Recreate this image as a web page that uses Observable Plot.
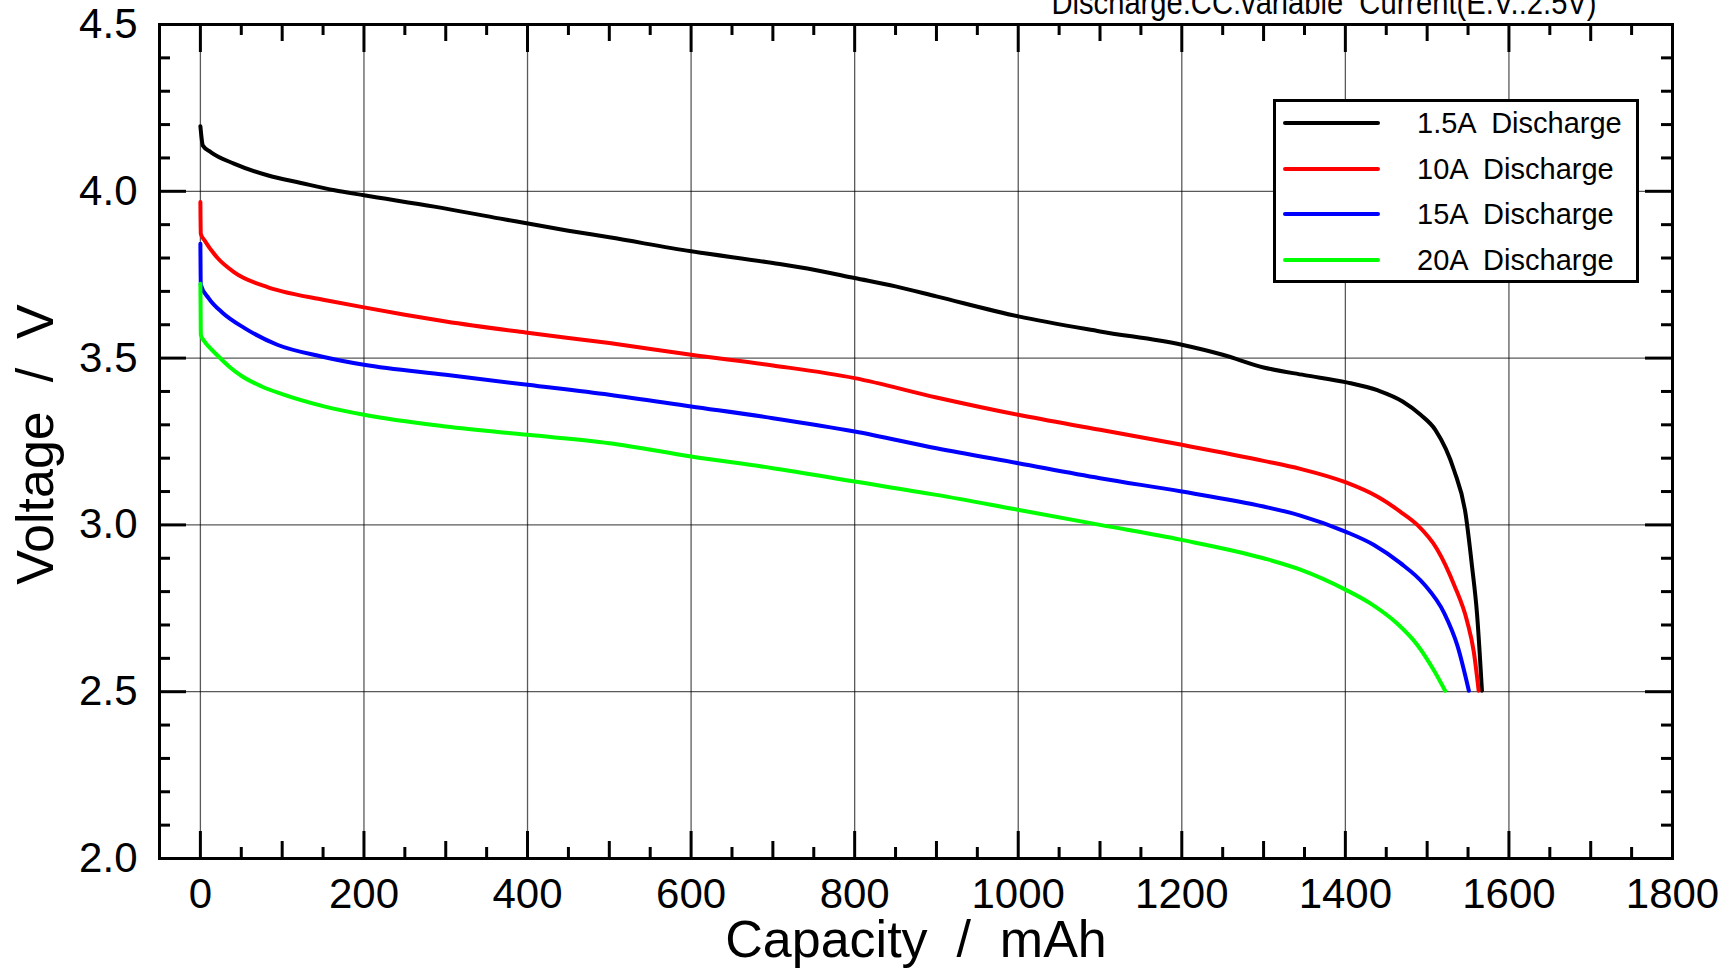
<!DOCTYPE html>
<html>
<head>
<meta charset="utf-8">
<script src="https://cdn.jsdelivr.net/npm/d3@7"></script>
<script src="https://cdn.jsdelivr.net/npm/@observablehq/plot@0.6"></script>
<style>
  html, body { margin: 0; padding: 0; background: #fff; }
  #wrap { position: relative; width: 1731px; height: 970px; overflow: hidden; font-family: "Liberation Sans", Arial, sans-serif; }
  #wrap svg text { white-space: pre; }
  #legend { position: absolute; left: 1273px; top: 99px; width: 360px; height: 178px; border: 3px solid #000; background: #fff; }
  .row { position: absolute; left: 0; width: 100%; height: 0; }
  .sw { position: absolute; left: 7px; width: 97px; height: 4px; top: -2px; border-radius: 2px; }
  .lb { position: absolute; left: 141px; top: -17px; font-size: 29px; line-height: 34px; white-space: pre; color: #000; }
</style>
</head>
<body>
<div id="wrap"></div>
<script>
// ---- data ----
const seriesNames = ["1.5A  Discharge", "10A  Discharge", "15A  Discharge", "20A  Discharge"];
const seriesColors = ["#000000", "#ff0000", "#0000ff", "#00ff00"];

const cap15A = [0, 1, 3, 13, 41, 82, 123, 164, 200, 286, 367, 450, 500, 600, 700, 750, 800, 850, 900, 1000, 1100, 1200, 1250, 1300, 1350, 1400, 1440, 1470, 1492, 1510, 1533, 1547, 1555, 1561, 1567];
const volt15A = [4.195, 4.17, 4.137, 4.117, 4.083, 4.048, 4.025, 4.003, 3.988, 3.954, 3.918, 3.882, 3.862, 3.82, 3.785, 3.765, 3.74, 3.715, 3.685, 3.625, 3.58, 3.54, 3.51, 3.472, 3.449, 3.428, 3.403, 3.37, 3.33, 3.285, 3.163, 3.033, 2.873, 2.733, 2.503];

const cap10A = [0, 0.5, 5, 21, 41, 82, 100, 150, 200, 250, 300, 400, 500, 600, 700, 800, 900, 1000, 1100, 1200, 1300, 1345, 1400, 1439, 1467, 1488, 1512, 1533, 1549, 1557, 1563];
const volt10A = [3.968, 3.873, 3.853, 3.80, 3.758, 3.713, 3.70, 3.675, 3.652, 3.63, 3.61, 3.576, 3.545, 3.51, 3.478, 3.44, 3.382, 3.33, 3.285, 3.24, 3.192, 3.168, 3.128, 3.085, 3.04, 3.0, 2.928, 2.82, 2.71, 2.62, 2.503];

const cap15 = [0, 0.5, 10, 27, 54, 94, 148, 200, 300, 400, 500, 600, 700, 800, 900, 1000, 1100, 1200, 1300, 1345, 1400, 1435, 1467, 1496, 1521, 1537, 1551];
const volt15 = [3.843, 3.72, 3.68, 3.636, 3.59, 3.54, 3.505, 3.48, 3.45, 3.42, 3.39, 3.355, 3.32, 3.28, 3.23, 3.185, 3.14, 3.10, 3.055, 3.028, 2.98, 2.94, 2.886, 2.823, 2.735, 2.638, 2.503];

const cap20 = [0, 0.5, 5, 10, 20, 35, 50, 75, 100, 150, 200, 300, 400, 500, 600, 700, 800, 900, 1000, 1100, 1200, 1300, 1345, 1400, 1431, 1463, 1488, 1508, 1522];
const volt20 = [3.723, 3.57, 3.55, 3.535, 3.51, 3.475, 3.447, 3.415, 3.392, 3.356, 3.33, 3.295, 3.27, 3.245, 3.205, 3.17, 3.13, 3.09, 3.045, 3.00, 2.955, 2.90, 2.866, 2.806, 2.764, 2.705, 2.64, 2.565, 2.503];

const xTickLabels = [0, 200, 400, 600, 800, 1000, 1200, 1400, 1600, 1800];
const yTickLabels = [2.0, 2.5, 3.0, 3.5, 4.0, 4.5];
const xMajor = [0, 200, 400, 600, 800, 1000, 1200, 1400, 1600];
const xMedium = [100, 300, 500, 700, 900, 1100, 1300, 1500, 1700];
const xMinor = [50, 150, 250, 350, 450, 550, 650, 750, 850, 950, 1050, 1150, 1250, 1350, 1450, 1550, 1650, 1750];
const yMajor = [2.5, 3.0, 3.5, 4.0];
const yMinor = [2.1, 2.2, 2.3, 2.4, 2.6, 2.7, 2.8, 2.9, 3.1, 3.2, 3.3, 3.4, 3.6, 3.7, 3.8, 3.9, 4.1, 4.2, 4.3, 4.4];

const xTitle = "Capacity  /  mAh";
const yTitle = "Voltage  /  V";
const topTitle = "Discharge:CC:variable  Current(E.V.:2.5V)";

// ---- build table ----
const caps = [cap15A, cap10A, cap15, cap20];
const volts = [volt15A, volt10A, volt15, volt20];
const rows = [];
caps.forEach((c, s) => c.forEach((x, i) => rows.push({series: seriesNames[s], cap: x, v: volts[s][i]})));

const W = 1731, H = 970, mT = 24, mB = 112, mL = 159, mR = 59;
const fW = W - mL - mR, fH = H - mT - mB;
const font = "Liberation Sans, Arial, sans-serif";

const chart = Plot.plot({
  width: W, height: H,
  marginTop: mT, marginBottom: mB, marginLeft: mL, marginRight: mR,
  style: {fontFamily: font, background: "#fff", color: "#000", overflow: "visible"},
  x: {domain: [-50, 1800], axis: null},
  y: {domain: [2.0, 4.5], axis: null},
  color: {domain: seriesNames, range: seriesColors},
  marks: [
    Plot.gridX(xMajor, {stroke: "#000", strokeOpacity: 0.65, strokeWidth: 1.3}),
    Plot.gridY(yMajor, {stroke: "#000", strokeOpacity: 0.65, strokeWidth: 1.3}),
    Plot.line(rows, {x: "cap", y: "v", z: "series", stroke: "series", strokeWidth: 4, curve: "monotone-x", strokeLinejoin: "round"}),
    Plot.frame({stroke: "#000", strokeWidth: 3}),
    // bottom ticks (inward)
    Plot.tickX(xMajor, {x: d => d, insetTop: fH - 27, strokeWidth: 3}),
    Plot.tickX(xMedium, {x: d => d, insetTop: fH - 17, strokeWidth: 3}),
    Plot.tickX(xMinor, {x: d => d, insetTop: fH - 11, strokeWidth: 3}),
    // top ticks (inward)
    Plot.tickX(xMajor, {x: d => d, insetBottom: fH - 28, strokeWidth: 3}),
    Plot.tickX(xMedium, {x: d => d, insetBottom: fH - 17, strokeWidth: 3}),
    Plot.tickX(xMinor, {x: d => d, insetBottom: fH - 11, strokeWidth: 3}),
    // left ticks
    Plot.tickY(yMajor, {y: d => d, insetRight: fW - 27, strokeWidth: 3}),
    Plot.tickY(yMinor, {y: d => d, insetRight: fW - 11, strokeWidth: 3}),
    // right ticks
    Plot.tickY(yMajor, {y: d => d, insetLeft: fW - 27, strokeWidth: 3}),
    Plot.tickY(yMinor, {y: d => d, insetLeft: fW - 11, strokeWidth: 3}),
    // tick labels
    Plot.axisX(xTickLabels, {anchor: "bottom", tickSize: 0, tickPadding: 20, fontSize: 42, fontFamily: font, tickFormat: d => String(d), label: null}),
    Plot.axisY(yTickLabels, {anchor: "left", tickSize: 0, tickPadding: 22, fontSize: 42, fontFamily: font, tickFormat: d => d.toFixed(1), label: null}),
    // titles
    Plot.text([xTitle], {text: d => d, frameAnchor: "bottom", textAnchor: "middle", lineAnchor: "bottom", dy: 98, fontSize: 52, fontFamily: font}),
    Plot.text([yTitle], {text: d => d, frameAnchor: "left", textAnchor: "middle", rotate: -90, lineAnchor: "bottom", dx: -107, dy: 3, fontSize: 52, fontFamily: font}),
    Plot.text([topTitle], {text: d => d, frameAnchor: "top", textAnchor: "middle", lineAnchor: "bottom", dx: 408, dy: -11, fontSize: 34, fontFamily: font})
  ]
});

// condense the clipped top title like the reference
d3.select(chart).selectAll("text").filter(function() { return this.textContent === topTitle; })
  .attr("textLength", 545).attr("lengthAdjust", "spacingAndGlyphs");

const wrap = document.getElementById("wrap");
wrap.appendChild(chart);

// legend
const legend = document.createElement("div");
legend.id = "legend";
const rowTops = [21, 67, 112, 158];
seriesNames.forEach((name, i) => {
  const r = document.createElement("div");
  r.className = "row";
  r.style.top = rowTops[i] + "px";
  const sw = document.createElement("div");
  sw.className = "sw";
  sw.style.background = seriesColors[i];
  const lb = document.createElement("div");
  lb.className = "lb";
  lb.textContent = name;
  r.appendChild(sw); r.appendChild(lb);
  legend.appendChild(r);
});
wrap.appendChild(legend);
</script>
</body>
</html>
